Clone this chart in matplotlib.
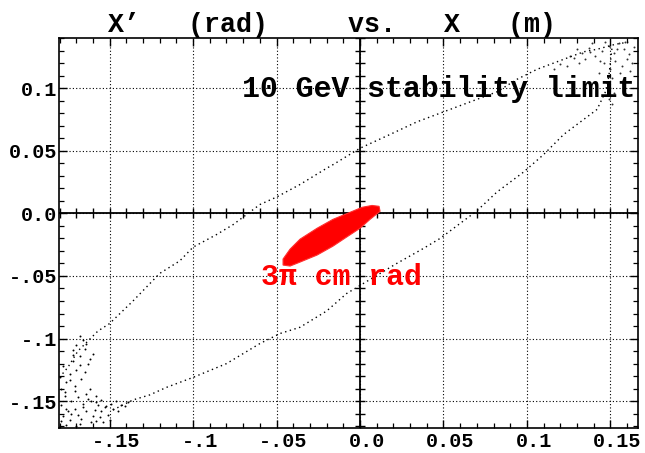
import numpy as np
import matplotlib
matplotlib.use("Agg")
import matplotlib.pyplot as plt
import matplotlib.transforms as mtransforms

# upper branch of the 10 GeV stability limit (x in m, x' in rad)
upper_x = [-0.180, -0.175, -0.169, -0.163, -0.157, -0.150, -0.136, -0.120, -0.108,
           -0.100, -0.086, -0.076, -0.060, -0.050, -0.036, -0.020, -0.016, 0.000,
           0.018, 0.034, 0.050, 0.066, 0.082, 0.094, 0.106, 0.122, 0.134, 0.142,
           0.153, 0.162]
upper_y = [-0.131, -0.123, -0.110, -0.102, -0.094, -0.088, -0.070, -0.048, -0.038,
           -0.027, -0.017, -0.009, 0.007, 0.013, 0.023, 0.036, 0.039, 0.052,
           0.063, 0.073, 0.081, 0.089, 0.097, 0.107, 0.115, 0.123, 0.129, 0.131,
           0.135, 0.137]

# lower branch
lower_x = [-0.148, -0.136, -0.126, -0.116, -0.100, -0.080, -0.060, -0.048, -0.036,
           -0.020, -0.008, 0.002, 0.022, 0.038, 0.048, 0.062, 0.070, 0.082,
           0.098, 0.110, 0.122, 0.134, 0.142, 0.147, 0.149, 0.150, 0.151]
lower_y = [-0.157, -0.149, -0.145, -0.139, -0.131, -0.120, -0.104, -0.096, -0.091,
           -0.078, -0.064, -0.056, -0.040, -0.028, -0.020, -0.006, 0.002, 0.017,
           0.033, 0.047, 0.063, 0.075, 0.083, 0.097, 0.109, 0.121, 0.133]

# scattered points where the limit turns round (lower left)
turn_ll_x = [-0.178, -0.172, -0.168, -0.174, -0.170, -0.165, -0.176, -0.179, -0.171,
             -0.167, -0.177, -0.173, -0.169, -0.164, -0.179, -0.175, -0.171, -0.166,
             -0.161, -0.157, -0.178, -0.174, -0.169, -0.164, -0.160, -0.155, -0.151,
             -0.176, -0.168, -0.158, -0.153, -0.149, -0.146, -0.162, -0.158, -0.180,
             -0.163, -0.160, -0.170, -0.166, -0.172, -0.162, -0.168, -0.174, -0.165,
             -0.177, -0.171, -0.163, -0.158, -0.155, -0.152, -0.148, -0.143, -0.139,
             -0.176, -0.173, -0.167, -0.161, -0.156, -0.150, -0.179, -0.170, -0.166,
             -0.159, -0.154, -0.145, -0.141, -0.172, -0.168, -0.164]
turn_ll_y = [-0.122, -0.118, -0.114, -0.128, -0.125, -0.108, -0.135, -0.140, -0.138,
             -0.132, -0.146, -0.150, -0.147, -0.144, -0.153, -0.158, -0.156, -0.152,
             -0.150, -0.153, -0.162, -0.165, -0.161, -0.158, -0.162, -0.158, -0.161,
             -0.169, -0.168, -0.166, -0.155, -0.152, -0.150, -0.140, -0.146, -0.131,
             -0.120, -0.112, -0.105, -0.101, -0.113, -0.116, -0.121, -0.133, -0.127,
             -0.143, -0.142, -0.148, -0.151, -0.149, -0.154, -0.156, -0.153, -0.151,
             -0.156, -0.160, -0.164, -0.167, -0.163, -0.165, -0.166, -0.170, -0.155,
             -0.157, -0.167, -0.158, -0.154, -0.109, -0.098, -0.104]

# scattered points where the limit turns round (upper right)
turn_ur_x = [0.128, 0.133, 0.137, 0.141, 0.145, 0.149, 0.152, 0.155, 0.158, 0.161,
             0.164, 0.146, 0.150, 0.153, 0.157, 0.160, 0.163, 0.139, 0.131, 0.124,
             0.143, 0.151, 0.156, 0.162, 0.159, 0.147, 0.135, 0.120, 0.116, 0.148,
             0.150, 0.152, 0.149, 0.151, 0.144, 0.154, 0.138, 0.126, 0.130]
turn_ur_y = [0.124, 0.128, 0.132, 0.126, 0.130, 0.134, 0.128, 0.136, 0.131, 0.127,
             0.133, 0.120, 0.115, 0.122, 0.118, 0.123, 0.120, 0.136, 0.120, 0.118,
             0.112, 0.108, 0.112, 0.114, 0.137, 0.137, 0.123, 0.119, 0.115, 0.104,
             0.100, 0.096, 0.091, 0.087, 0.122, 0.131, 0.129, 0.126, 0.131]

# outline of the 3 pi cm rad beam
beam_x = [-0.0461, -0.0419, -0.0359, -0.0257, -0.0162, -0.0060, 0.0012, 0.0072,
          0.0114, 0.0120, 0.0060, 0.0000, -0.0090, -0.0162, -0.0257, -0.0359,
          -0.0419, -0.0461]
beam_y = [-0.0365, -0.0286, -0.0206, -0.0119, -0.0048, 0.0008, 0.0048, 0.0063,
          0.0056, 0.0016, -0.0048, -0.0119, -0.0198, -0.0262, -0.0333, -0.0389,
          -0.0421, -0.0413]

xticks = [-0.15, -0.1, -0.05, 0.0, 0.05, 0.1, 0.15]
xlabels = ["-.15", "-.1", "-.05", "0.0", "0.05", "0.1", "0.15"]
yticks = [-0.15, -0.1, -0.05, 0.0, 0.05, 0.1]
ylabels = ["-.15", "-.1", "-.05", "0.0", "0.05", "0.1"]

mono = "Liberation Mono"

fig = plt.figure(figsize=(6.45, 4.53), dpi=100)
ax = fig.add_axes([59 / 645, 1 - 428 / 453, 579 / 645, 390 / 453])
ax.set_xlim(-0.1803, 0.1665)
ax.set_ylim(-0.1714, 0.138)

ax.grid(True, which="major", linestyle=(0, (1, 2)), color="black", linewidth=0.8)
ax.set_axisbelow(True)

ax.plot(upper_x, upper_y, linestyle=(0, (1, 2.5)), color="black", linewidth=1.0)
ax.plot(lower_x, lower_y, linestyle=(0, (1, 2.5)), color="black", linewidth=1.0)
ax.scatter(turn_ll_x, turn_ll_y, s=2, color="black", linewidths=0)
ax.scatter(turn_ur_x, turn_ur_y, s=2, color="#333333", linewidths=0)
ax.fill(beam_x, beam_y, color="#ff0000", linewidth=0.8, edgecolor="#ff3030", zorder=3)

# zero axes with crossing ticks
ax.axhline(0, color="black", linewidth=1.3, zorder=2)
ax.axvline(0, color="black", linewidth=1.3, zorder=2)
minor_x = np.round(np.arange(-0.18, 0.17, 0.01), 3)
minor_y = np.round(np.arange(-0.17, 0.14, 0.01), 3)
ax.plot(minor_x, np.zeros_like(minor_x), linestyle="none", marker="|",
        markersize=7, color="black", markeredgewidth=1.0, zorder=2)
ax.plot(np.zeros_like(minor_y), minor_y, linestyle="none", marker="_",
        markersize=7, color="black", markeredgewidth=1.0, zorder=2)

ax.set_xticks(xticks)
ax.set_yticks(yticks)
ax.set_xticks(minor_x, minor=True)
ax.set_yticks(minor_y, minor=True)
ax.set_xticklabels(xlabels, fontfamily=mono, fontweight="bold", fontsize=14.5)
ax.set_yticklabels(ylabels, fontfamily=mono, fontweight="bold", fontsize=14.5)
ax.tick_params(which="both", direction="in", top=True, right=True, color="black")
ax.tick_params(which="major", length=6, width=1.0, pad=3)
ax.tick_params(which="minor", length=3.5, width=0.9)
ax.tick_params(axis="y", which="major", pad=1)
shift = mtransforms.ScaledTranslation(7 / 100, 0, fig.dpi_scale_trans)
for lab in ax.get_xticklabels():
    lab.set_transform(lab.get_transform() + shift)
for s in ax.spines.values():
    s.set_linewidth(1.2)

fig.text(108 / 645, 1 - 32 / 453, "X\u2019   (rad)     vs.   X   (m)", fontfamily=mono,
         fontweight="bold", fontsize=19.2, ha="left", va="baseline")
fig.text(242 / 645, 1 - 97 / 453, "10 GeV stability limit", fontfamily=mono,
         fontweight="bold", fontsize=21.5, ha="left", va="baseline")
fig.text(261 / 645, 1 - 285 / 453, "3\u03c0 cm rad", fontfamily=mono,
         fontweight="bold", fontsize=21.5, ha="left", va="baseline", color="#ff0000")

fig.savefig("out.png", dpi=100)
